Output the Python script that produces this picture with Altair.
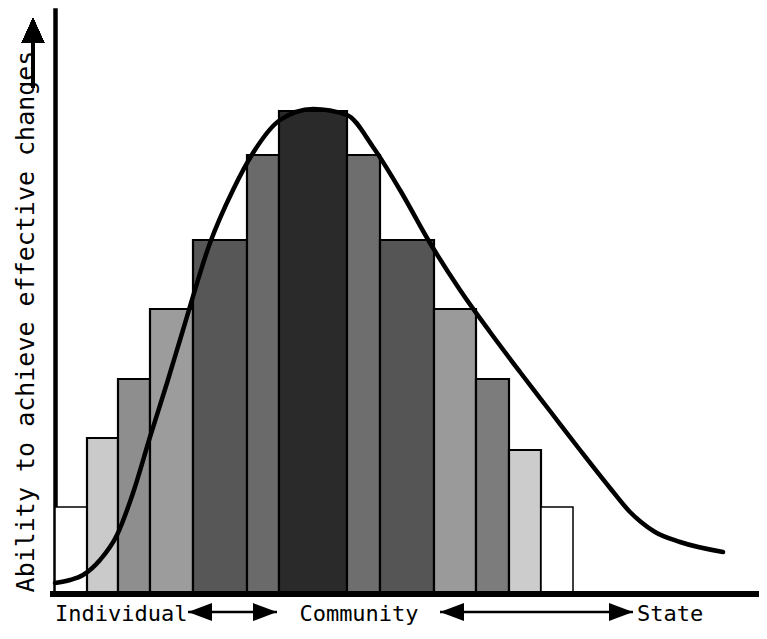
import altair as alt
import pandas as pd

# ---- data (units along the continuum / ability scale) ----
bar_left = [0, 32, 63, 95, 138, 192, 224, 292, 325, 379, 421, 454, 486]
bar_right = [32, 63, 95, 138, 192, 224, 292, 325, 379, 421, 454, 486, 518]
bar_height = [87, 156, 215, 285, 354, 439, 483, 439, 354, 285, 215, 144, 87]

curve_x = [0, 15, 28, 45, 62, 78, 95, 112, 128, 155, 178, 198, 225, 258, 292,
           318, 345, 375, 405, 435, 465, 495, 525, 555, 575, 586, 600, 625, 668]
curve_y = [11, 14, 19, 34, 59, 101, 157, 211, 264, 351, 404, 441, 474, 485, 479,
           447, 404, 351, 304, 262, 222, 183, 144, 106, 82, 72, 62, 52, 42]

labels = ["Individual", "Community", "State"]
label_x = [0, 304, 582]
label_align = ["left", "center", "left"]
arrow_from = [133, 385]
arrow_to = [222, 578]

y_title = "Ability to achieve effective changes"

# ---- styles ----
grays = ["#ffffff", "#cacaca", "#8e8e8e", "#9c9c9c", "#575757", "#6a6a6a", "#2a2a2a",
         "#6e6e6e", "#555555", "#9a9a9a", "#7c7c7c", "#cccccc", "#ffffff"]
FONT = "DejaVu Sans Mono"
W, H = 704, 584

bars = pd.DataFrame({"bar": list(range(len(bar_left))), "x0": bar_left,
                     "x1": bar_right, "h": bar_height})
curve = pd.DataFrame({"x": curve_x, "y": curve_y})
lab = pd.DataFrame({"label": labels, "x": label_x, "align": label_align})
arr = pd.DataFrame({"a": arrow_from, "b": arrow_to})

xs = alt.Scale(domain=[0, W], nice=False, zero=False)
ys = alt.Scale(domain=[0, H], nice=False, zero=True)

base_y_axis = alt.Axis(domain=True, domainWidth=4.5, domainColor="black", domainCap="square",
                       ticks=False, labels=False, grid=False, title=y_title,
                       titleFont=FONT, titleFontSize=25, titleFontWeight="normal",
                       titleColor="black", titleAngle=270, titleX=-30, titleY=311,
                       titleAlign="center", titleBaseline="middle")

bar_layer = alt.Chart(bars).mark_rect(stroke="black").encode(
    x=alt.X("x0:Q", scale=xs, axis=None),
    x2="x1:Q",
    y=alt.Y("h:Q", scale=ys, axis=base_y_axis),
    y2=alt.datum(0),
    fill=alt.Fill("bar:N", scale=alt.Scale(domain=list(range(len(grays))), range=grays), legend=None),
    strokeWidth=alt.condition("datum.bar == 0 || datum.bar == 12", alt.value(1.5), alt.value(2.2)),
)

curve_layer = alt.Chart(curve).mark_line(color="black", strokeWidth=4.5, interpolate="monotone",
                                         strokeCap="round").encode(
    x=alt.X("x:Q", scale=xs), y=alt.Y("y:Q", scale=ys))

x_axis_line = alt.Chart(curve).mark_rule(color="black", strokeWidth=4.5).encode(
    x=alt.value(-5), x2=alt.value(W + 8), y=alt.value(H))

# y-axis arrow
y_arrow_shaft = alt.Chart(curve).mark_rule(color="black", strokeWidth=2.5).encode(
    x=alt.value(-22), y=alt.value(30), y2=alt.value(78))
y_arrow_head = alt.Chart(curve).mark_point(shape="M0,-1L0.9,1L-0.9,1Z", filled=True, size=625,
                                           color="black", opacity=1).encode(
    x=alt.value(-22), y=alt.value(20.5))

# bottom double arrows
shaft = alt.Chart(arr).mark_rule(color="black", strokeWidth=2.5).encode(
    x=alt.X("a:Q", scale=xs), x2="b:Q", y=alt.value(602))
head_l = alt.Chart(arr).transform_calculate(c="datum.a + 12").mark_point(
    shape="M-1,0L1,-0.75L1,0.75Z", filled=True, size=576, color="black", opacity=1).encode(
    x=alt.X("c:Q", scale=xs), y=alt.value(602))
head_r = alt.Chart(arr).transform_calculate(c="datum.b - 12").mark_point(
    shape="M1,0L-1,-0.75L-1,0.75Z", filled=True, size=576, color="black", opacity=1).encode(
    x=alt.X("c:Q", scale=xs), y=alt.value(602))

text_left = alt.Chart(lab).transform_filter("datum.align == 'left'").mark_text(
    font=FONT, fontSize=22, color="black", align="left", baseline="alphabetic").encode(
    x=alt.X("x:Q", scale=xs), y=alt.value(611), text="label:N")
text_center = alt.Chart(lab).transform_filter("datum.align == 'center'").mark_text(
    font=FONT, fontSize=22, color="black", align="center", baseline="alphabetic").encode(
    x=alt.X("x:Q", scale=xs), y=alt.value(611), text="label:N")

chart = alt.layer(bar_layer, curve_layer, x_axis_line, y_arrow_shaft, y_arrow_head,
                  shaft, head_l, head_r, text_left, text_center).properties(
    width=W, height=H,
    autosize=alt.AutoSizeParams(type="none"),
    padding={"left": 47, "top": 2, "right": 0, "bottom": 35},
    background="white",
).configure_view(stroke=None)

chart.save("out.html", embed_options={"renderer": "svg", "actions": False})
